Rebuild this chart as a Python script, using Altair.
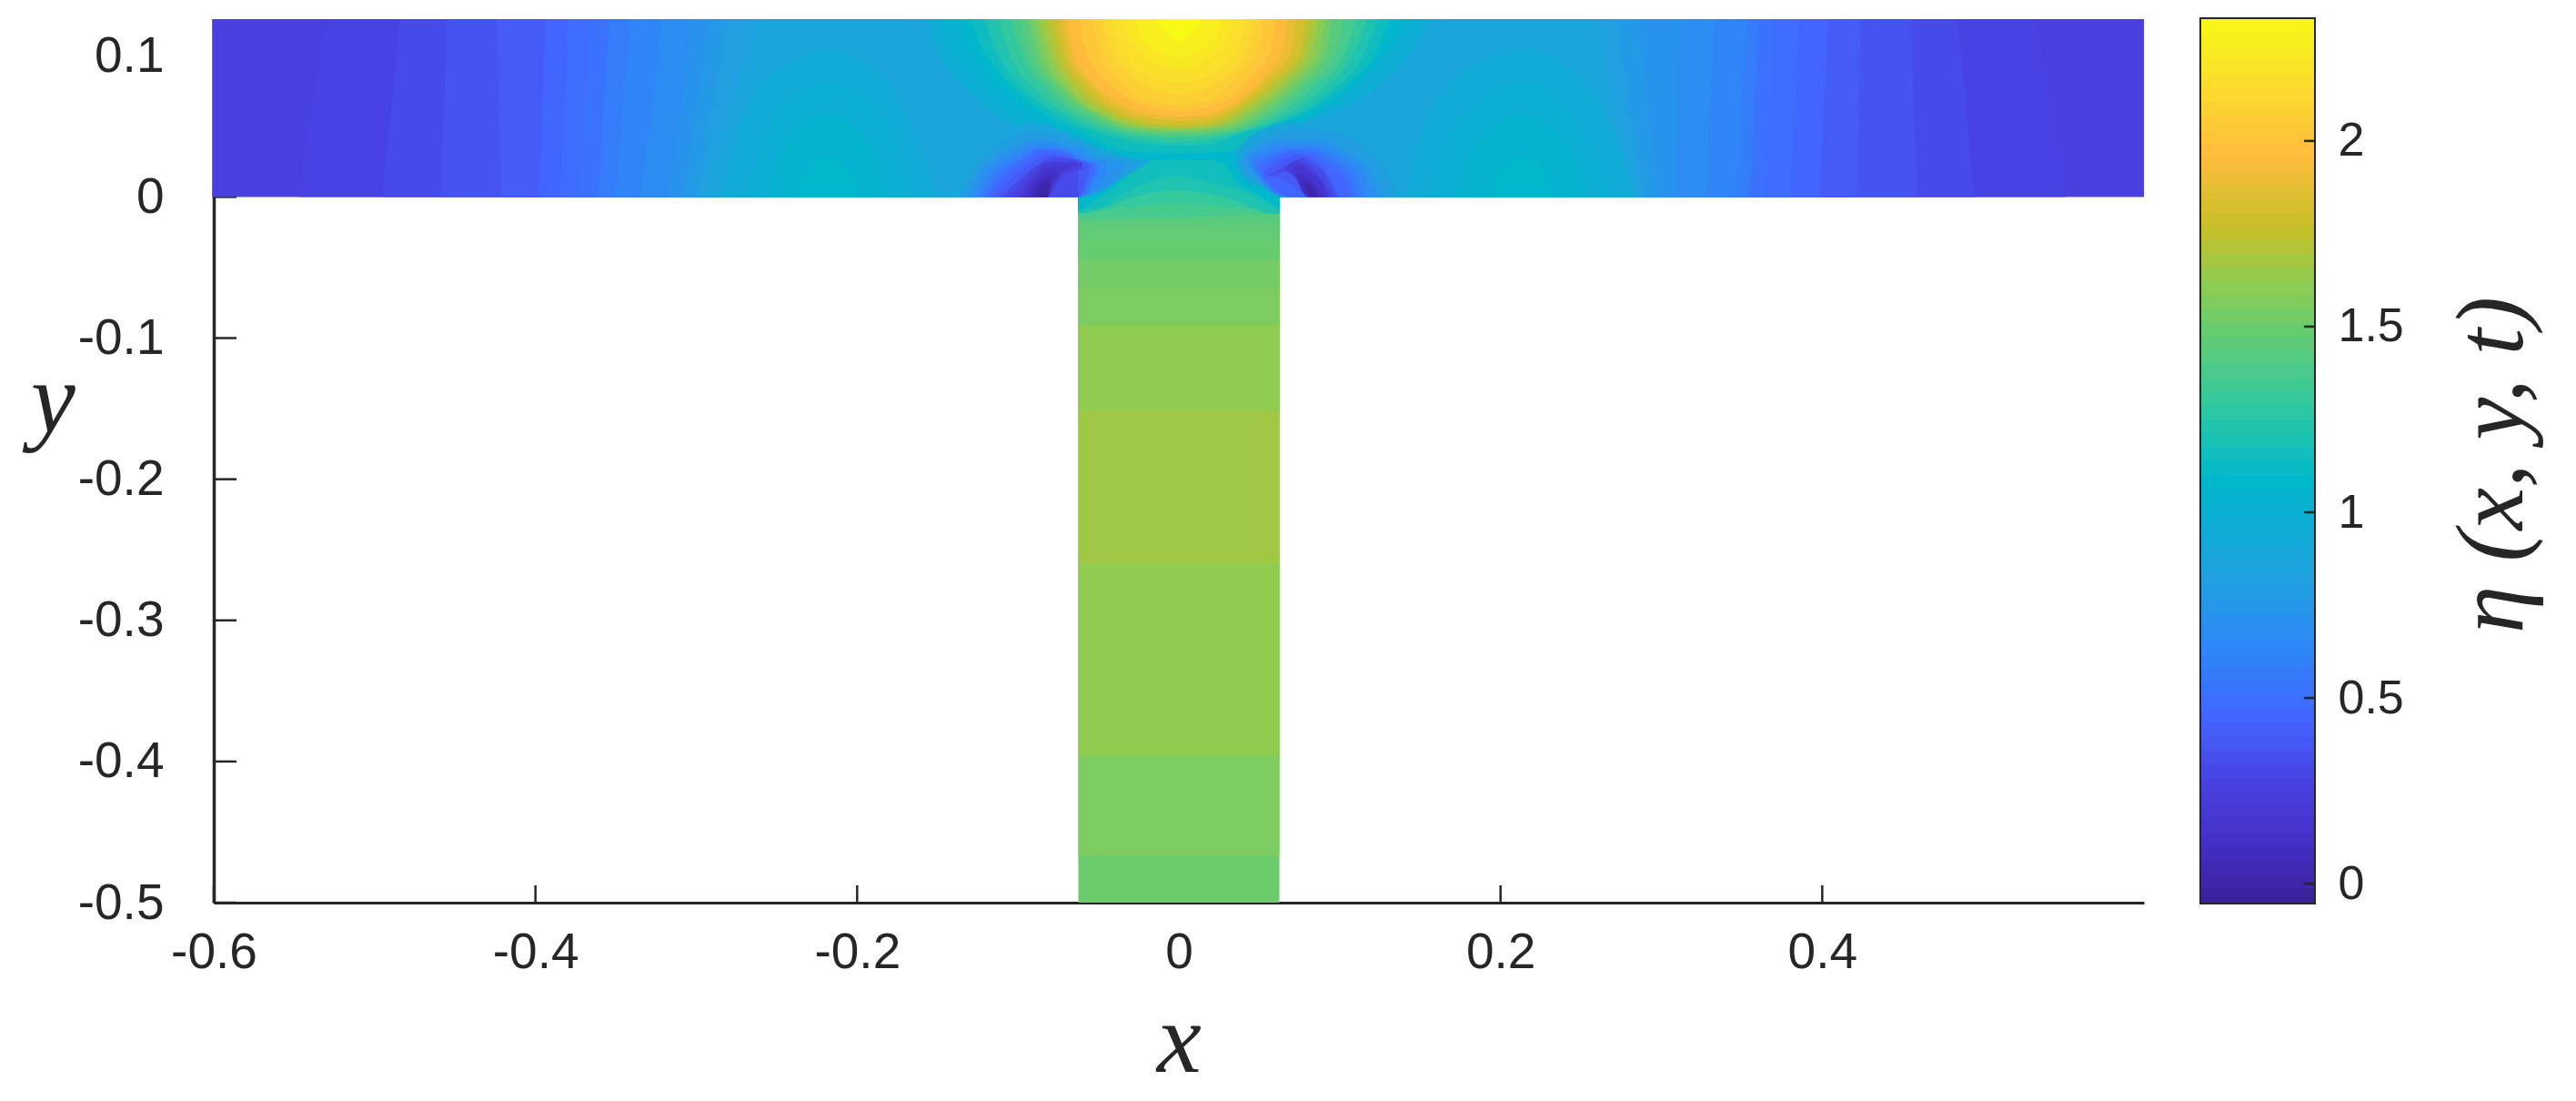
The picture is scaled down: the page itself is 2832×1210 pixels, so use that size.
import altair as alt
import pandas as pd

INK = "#262626"
SANS = "Liberation Sans"
SERIF = "Liberation Serif"
TOP = 0.126
X_TICKS = [-0.6, -0.4, -0.2, 0, 0.2, 0.4]
Y_TICKS = [-0.5, -0.4, -0.3, -0.2, -0.1, 0, 0.1]
CB_TICKS = [0, 0.5, 1, 1.5, 2]
CB_LOW, CB_HIGH = -0.051, 2.328
COLOR_V = [-0.055, 0.1, 0.25, 0.43, 0.6, 0.8, 1.07, 1.25, 1.47, 1.6, 1.75, 1.94, 2.1, 2.33]
COLOR_HEX = ["#3a229e", "#4430c8", "#4840e0", "#4265ff", "#2f85f8", "#20a0e0", "#00b7cb",
             "#2cc8a5", "#66cc70", "#90cc50", "#c8c028", "#ffbb3c", "#fbd830", "#f8fb14"]

# Iso-value regions, painted in order.
OUTER_Y = [0, 0.06, TOP]
OUTER = [
    (0.24, [-0.601, -0.601, -0.601], [0.6, 0.6, 0.6]),
    (0.26, [-0.547, -0.54, -0.53], [0.551, 0.543, 0.532]),
    (0.3, [-0.495, -0.49, -0.484], [0.494, 0.49, 0.484]),
    (0.34, [-0.459, -0.457, -0.455], [0.459, 0.457, 0.455]),
    (0.38, [-0.421, -0.423, -0.424], [0.421, 0.423, 0.424]),
    (0.43, [-0.398, -0.396, -0.394], [0.398, 0.401, 0.404]),
    (0.47, [-0.385, -0.382, -0.38], [0.38, 0.383, 0.386]),
    (0.5, [-0.373, -0.37, -0.367], [0.364, 0.367, 0.37]),
    (0.55, [-0.361, -0.358, -0.354], [0.355, 0.358, 0.361]),
    (0.6, [-0.351, -0.346, -0.341], [0.347, 0.35, 0.353]),
    (0.65, [-0.335, -0.328, -0.322], [0.328, 0.33, 0.333]),
    (0.7, [-0.318, -0.31, -0.303], [0.308, 0.31, 0.313]),
    (0.75, [-0.308, -0.3, -0.292], [0.298, 0.292, 0.286]),
    (0.8, [-0.3, -0.29, -0.28], [0.29, 0.28, 0.272]),
    (0.85, [-0.296, -0.28, -0.262], [0.285, 0.272, 0.26]),
]
BUMPS = [
    (0.92, [-0.285, -0.27, -0.25, -0.218, -0.18, -0.15], None, [0, 0.06, 0.09, 0.105, 0.08, 0]),
    (0.97, [-0.269, -0.255, -0.24, -0.218, -0.185, -0.165], None, [0, 0.05, 0.072, 0.082, 0.06, 0]),
    (1.02, [-0.255, -0.245, -0.235, -0.218, -0.195, -0.18], None, [0, 0.035, 0.053, 0.059, 0.042, 0]),
    (1.07, [-0.238, -0.23, -0.218, -0.205, -0.197], None, [0, 0.02, 0.029, 0.02, 0]),
    (0.92, [0.14, 0.16, 0.214, 0.26, 0.285], None, [0, 0.07, 0.105, 0.07, 0]),
    (0.97, [0.155, 0.172, 0.214, 0.25, 0.27], None, [0, 0.05, 0.082, 0.05, 0]),
    (1.02, [0.172, 0.185, 0.214, 0.24, 0.255], None, [0, 0.04, 0.059, 0.04, 0]),
    (1.07, [0.192, 0.2, 0.214, 0.228, 0.235], None, [0, 0.02, 0.029, 0.02, 0]),
]
DOMES = [
    (0.95, [-0.156, -0.151, -0.137, -0.117, -0.092, -0.064, -0.038, 0, 0.03, 0.035, 0.05, 0.075, 0.105, 0.13, 0.146, 0.156],
     [0.126, 0.106, 0.082, 0.061, 0.044, 0.0335, 0.029, 0.025, 0.024, 0.035, 0.044, 0.052, 0.0645, 0.0845, 0.106, 0.126]),
    (1.01, [-0.147, -0.143, -0.129, -0.108, -0.084, -0.056, -0.03, 0, 0.03, 0.037, 0.06, 0.087, 0.113, 0.133, 0.147],
     [0.126, 0.111, 0.087, 0.063, 0.046, 0.034, 0.028, 0.0255, 0.025, 0.038, 0.047, 0.06, 0.08, 0.105, 0.126]),
    (1.07, [-0.137, -0.134, -0.121, -0.098, -0.075, -0.047, -0.02, 0, 0.03, 0.04, 0.068, 0.098, 0.121, 0.135, 0.137],
     [0.126, 0.1165, 0.091, 0.065, 0.048, 0.035, 0.027, 0.026, 0.026, 0.041, 0.05, 0.069, 0.095, 0.1165, 0.126]),
    (1.13, [-0.129, -0.123, -0.107, -0.083, -0.058, -0.03, 0, 0.03, 0.054, 0.083, 0.107, 0.125, 0.131],
     [0.126, 0.108, 0.082, 0.059, 0.045, 0.032, 0.031, 0.032, 0.048, 0.062, 0.082, 0.108, 0.126]),
    (1.2, [-0.121, -0.112, -0.0935, -0.068, -0.043, -0.017, 0, 0.017, 0.04, 0.068, 0.0935, 0.114, 0.124],
     [0.126, 0.0995, 0.0735, 0.054, 0.0435, 0.037, 0.036, 0.037, 0.0455, 0.056, 0.0735, 0.0995, 0.126]),
    (1.27, [-0.113, -0.105, -0.088, -0.063, -0.038, 0, 0.037, 0.065, 0.089, 0.108, 0.117],
     [0.126, 0.1005, 0.0746, 0.055, 0.0445, 0.039, 0.0456, 0.057, 0.0757, 0.1005, 0.126]),
    (1.35, [-0.105, -0.098, -0.082, -0.059, -0.0335, 0, 0.0335, 0.061, 0.084, 0.103, 0.11],
     [0.126, 0.1015, 0.0757, 0.056, 0.0456, 0.042, 0.0456, 0.0585, 0.078, 0.1015, 0.126]),
    (1.42, [-0.099, -0.093, -0.077, -0.055, -0.031, 0, 0.031, 0.057, 0.079, 0.097, 0.102],
     [0.126, 0.1015, 0.0757, 0.057, 0.0466, 0.0437, 0.0466, 0.0595, 0.079, 0.1015, 0.126]),
    (1.5, [-0.0935, -0.088, -0.073, -0.052, -0.029, 0, 0.029, 0.054, 0.075, 0.091, 0.095],
     [0.126, 0.1015, 0.0757, 0.0585, 0.0477, 0.0455, 0.0477, 0.0606, 0.08, 0.1015, 0.126]),
    (1.57, [-0.09, -0.084, -0.069, -0.048, -0.026, 0, 0.026, 0.05, 0.071, 0.087, 0.091],
     [0.126, 0.1015, 0.0746, 0.058, 0.049, 0.047, 0.049, 0.062, 0.081, 0.1015, 0.126]),
    (1.65, [-0.087, -0.08, -0.065, -0.045, -0.024, 0, 0.024, 0.047, 0.068, 0.082, 0.087],
     [0.126, 0.1015, 0.0735, 0.0574, 0.05, 0.048, 0.05, 0.063, 0.082, 0.1015, 0.126]),
    (1.72, [-0.082, -0.076, -0.062, -0.042, -0.022, 0, 0.022, 0.043, 0.064, 0.078, 0.083],
     [0.126, 0.1015, 0.076, 0.059, 0.0515, 0.0495, 0.0515, 0.064, 0.083, 0.1015, 0.126]),
    (1.8, [-0.077, -0.072, -0.059, -0.04, -0.02, 0, 0.02, 0.04, 0.061, 0.075, 0.079],
     [0.126, 0.1015, 0.078, 0.0606, 0.053, 0.051, 0.053, 0.065, 0.084, 0.1015, 0.126]),
    (1.87, [-0.073, -0.069, -0.056, -0.038, -0.018, 0, 0.018, 0.038, 0.057, 0.07, 0.073],
     [0.126, 0.1015, 0.08, 0.063, 0.056, 0.054, 0.056, 0.0665, 0.085, 0.103, 0.126]),
    (1.94, [-0.069, -0.066, -0.054, -0.036, -0.017, 0, 0.017, 0.036, 0.054, 0.065, 0.067],
     [0.126, 0.1015, 0.082, 0.066, 0.0585, 0.057, 0.0585, 0.068, 0.0865, 0.106, 0.126]),
    (2.0, [-0.062, -0.058, -0.046, -0.028, 0, 0.028, 0.045, 0.058, 0.06],
     [0.126, 0.104, 0.083, 0.0675, 0.061, 0.0675, 0.085, 0.106, 0.126]),
    (2.05, [-0.054, -0.05, -0.038, -0.02, 0, 0.02, 0.036, 0.05, 0.052],
     [0.126, 0.106, 0.084, 0.069, 0.065, 0.069, 0.084, 0.106, 0.126]),
    (2.1, [-0.048, -0.044, -0.032, 0, 0.032, 0.044, 0.047],
     [0.126, 0.108, 0.0875, 0.073, 0.0875, 0.108, 0.126]),
    (2.15, [-0.042, -0.038, -0.027, 0, 0.027, 0.038, 0.042],
     [0.126, 0.11, 0.091, 0.081, 0.091, 0.11, 0.126]),
    (2.2, [-0.034, -0.03, 0, 0.03, 0.034], [0.126, 0.111, 0.09, 0.111, 0.126]),
    (2.25, [-0.027, -0.022, 0, 0.022, 0.027], [0.126, 0.112, 0.099, 0.112, 0.126]),
    (2.32, [-0.015, 0, 0.015], [0.126, 0.11, 0.126]),
]
CAPS = [
    (1.42, [-0.0625, 0, 0.0625], [-0.02, -0.02, -0.019], [0.026, 0.026, 0.026]),
    (1.35, [-0.0625, 0, 0.0625], [-0.0155, -0.0145, -0.012], [0.026, 0.026, 0.026]),
    (1.28, [-0.0625, -0.03, 0, 0.03, 0.0625], [-0.012, -0.007, -0.005, -0.007, -0.011], [0.026] * 5),
    (1.2, [-0.0625, -0.052, -0.029, 0, 0.029, 0.06, 0.0625], [-0.012, -0.01, 0, 0.0047, 0, -0.012, -0.012], [0.026] * 7),
    (1.14, [-0.0625, -0.052, -0.027, 0, 0.017, 0.038, 0.0625], [-0.009, -0.008, 0.007, 0.0155, 0.011, 0.0047, -0.01], [0.026] * 7),
    (1.07, [-0.0625, -0.052, -0.038, -0.024, -0.017], [-0.0105, -0.002, 0.009, 0.022, 0.027], [0.03] * 5),
    (1.07, [0.017, 0.029, 0.038, 0.052, 0.0625], [0.027, 0.022, 0.009, 0, -0.008], [0.03] * 5),
]
SINKS = [
    (0.85, [-0.14, -0.131, -0.112, -0.089, -0.0625, -0.052, -0.0386, -0.0185], [0, 0, 0, 0, 0, 0.0043, 0.011, 0.025], [0, 0.022, 0.0434, 0.052, 0.042, 0.036, 0.03, 0.0258]),
    (0.78, [-0.136, -0.127, -0.11, -0.089, -0.065, -0.0625, -0.052, -0.04, -0.026], [0, 0, 0, 0, 0, 0, 0.0035, 0.011, 0.023], [0, 0.02, 0.038, 0.0465, 0.04, 0.039, 0.032, 0.028, 0.025]),
    (0.7, [-0.133, -0.124, -0.107, -0.089, -0.068, -0.0625, -0.052, -0.04, -0.0335], [0, 0, 0, 0, 0, 0, 0.0026, 0.011, 0.022], [0, 0.0176, 0.0327, 0.041, 0.037, 0.036, 0.028, 0.026, 0.024]),
    (0.62, [-0.128, -0.119, -0.103, -0.088, -0.069, -0.0625, -0.055, -0.045], [0, 0, 0, 0, 0, 0, 0.003, 0.014], [0, 0.0176, 0.03, 0.038, 0.035, 0.032, 0.027, 0.025]),
    (0.55, [-0.124, -0.114, -0.1, -0.087, -0.07, -0.0625, -0.059, -0.05], [0, 0, 0, 0, 0, 0, 0.0037, 0.0165], [0, 0.0176, 0.028, 0.035, 0.033, 0.028, 0.026, 0.024]),
    (0.49, [-0.121, -0.112, -0.099, -0.085, -0.07, -0.0625, -0.056, -0.052], [0, 0, 0, 0, 0, 0, 0.006, 0.018], [0, 0.015, 0.026, 0.034, 0.0315, 0.027, 0.0245, 0.0235]),
    (0.43, [-0.119, -0.11, -0.098, -0.084, -0.07, -0.0625, -0.054], [0, 0, 0, 0, 0, 0, 0.02], [0, 0.013, 0.024, 0.0327, 0.03, 0.026, 0.023]),
    (0.37, [-0.114, -0.105, -0.093, -0.08, -0.0625, -0.056], [0, 0, 0, 0, 0, 0.018], [0, 0.012, 0.023, 0.03, 0.026, 0.0235]),
    (0.3, [-0.11, -0.1, -0.089, -0.077, -0.0625], [0, 0, 0, 0, 0], [0, 0.011, 0.022, 0.028, 0.026]),
    (0.25, [-0.105, -0.097, -0.088, -0.082, -0.074, -0.06], [0, 0, 0, 0, 0.012, 0.02], [0, 0.011, 0.021, 0.025, 0.0255, 0.024]),
    (0.2, [-0.1, -0.094, -0.087, -0.082, -0.074, -0.06], [0, 0, 0, 0, 0.0165, 0.023], [0, 0.011, 0.02, 0.024, 0.0245, 0.0235]),
    (0.15, [-0.098, -0.0915, -0.085, -0.082, -0.075, -0.066], [0, 0, 0, 0, 0.015, 0.021], [0, 0.011, 0.0185, 0.0205, 0.0215, 0.0215]),
    (0.1, [-0.096, -0.089, -0.082, -0.079, -0.075], [0, 0, 0, 0.009, 0.0165], [0, 0.011, 0.0165, 0.018, 0.018]),
    (0.05, [-0.093, -0.087, -0.082, -0.079], [0, 0, 0, 0.01], [0, 0.01, 0.0145, 0.0155]),
    (0.0, [-0.09, -0.0855, -0.082, -0.08], [0, 0, 0, 0.011], [0, 0.009, 0.012, 0.013]),
    (-0.05, [-0.087, -0.082, -0.081], [0, 0, 0], [0, 0.005, 0]),
    (0.85, [0.036, 0.04, 0.052, 0.064, 0.087, 0.11, 0.13, 0.14], [0.022, 0.0133, 0.0069, 0, 0, 0, 0, 0], [0.026, 0.038, 0.0477, 0.052, 0.054, 0.0434, 0.022, 0]),
    (0.78, [0.038, 0.046, 0.058, 0.075, 0.095, 0.115, 0.127, 0.135], [0.023, 0.012, 0.007, 0, 0, 0, 0, 0], [0.028, 0.037, 0.044, 0.048, 0.047, 0.034, 0.02, 0]),
    (0.7, [0.042, 0.052, 0.064, 0.084, 0.103, 0.119, 0.126], [0.024, 0.009, 0, 0, 0, 0, 0], [0.0305, 0.037, 0.041, 0.041, 0.0327, 0.0176, 0]),
    (0.62, [0.044, 0.053, 0.066, 0.083, 0.1, 0.115, 0.12], [0.023, 0.009, 0, 0, 0, 0, 0], [0.028, 0.034, 0.038, 0.038, 0.03, 0.017, 0]),
    (0.55, [0.046, 0.054, 0.068, 0.082, 0.096, 0.11, 0.115], [0.022, 0.009, 0, 0, 0, 0, 0], [0.026, 0.0305, 0.035, 0.035, 0.028, 0.0155, 0]),
    (0.49, [0.049, 0.058, 0.069, 0.082, 0.094, 0.106, 0.111], [0.019, 0.007, 0, 0, 0, 0, 0], [0.024, 0.029, 0.033, 0.033, 0.026, 0.0145, 0]),
    (0.43, [0.052, 0.061, 0.07, 0.081, 0.091, 0.102, 0.107], [0.0155, 0.004, 0, 0, 0, 0, 0], [0.022, 0.028, 0.0316, 0.0305, 0.024, 0.0133, 0]),
    (0.37, [0.054, 0.066, 0.075, 0.081, 0.09, 0.1], [0.015, 0.012, 0.004, 0, 0, 0], [0.019, 0.027, 0.03, 0.028, 0.02, 0]),
    (0.3, [0.0566, 0.07, 0.078, 0.081, 0.09, 0.098], [0.0144, 0.0187, 0.0075, 0, 0, 0], [0.0155, 0.0245, 0.0276, 0.025, 0.0176, 0]),
    (0.22, [0.066, 0.073, 0.08, 0.088, 0.095], [0.0187, 0.013, 0, 0, 0], [0.02, 0.0255, 0.022, 0.013, 0]),
    (0.15, [0.07, 0.075, 0.081, 0.089, 0.092], [0.0187, 0.009, 0, 0, 0], [0.0187, 0.023, 0.0176, 0.009, 0]),
    (0.08, [0.074, 0.08, 0.085, 0.09], [0.0115, 0, 0, 0], [0.016, 0.014, 0.008, 0]),
    (0.0, [0.077, 0.082, 0.087], [0.011, 0, 0], [0.011, 0.009, 0]),
]
CHANNEL_X = [-0.0625, 0.0625]
CHANNEL_BOTTOM = [-0.5, -0.4668, -0.396, -0.26, -0.151, -0.091, -0.064, -0.0445, -0.03]
CHANNEL_V = [1.49, 1.54, 1.6, 1.645, 1.6, 1.54, 1.51, 1.47, 1.45]

outer_rows = []
for i, (v, xl, xr) in enumerate(OUTER):
    for y, a, b in zip(OUTER_Y, xl, xr):
        outer_rows.append({"g": i, "v": v, "y": y, "xl": a, "xr": b})

area_rows = []
g = 0
for v, xs_, _, hi in BUMPS:
    for x, h in zip(xs_, hi):
        area_rows.append({"g": g, "v": v, "x": x, "lo": 0, "hi": h})
    g += 1
for v, xs_, lo in DOMES:
    for x, l in zip(xs_, lo):
        area_rows.append({"g": g, "v": v, "x": x, "lo": l, "hi": TOP})
    g += 1
for v, xs_, lo, hi in CAPS + SINKS:
    for x, l, h in zip(xs_, lo, hi):
        area_rows.append({"g": g, "v": v, "x": x, "lo": l, "hi": h})
    g += 1

channel = pd.DataFrame({"y": CHANNEL_BOTTOM, "y2": 0.0, "v": CHANNEL_V,
                        "x": CHANNEL_X[0], "x2": CHANNEL_X[1]})

color = alt.Color("v:Q", scale=alt.Scale(domain=COLOR_V, range=COLOR_HEX, clamp=True, interpolate="rgb"), legend=None)
xs = alt.Scale(domain=[-0.6, 0.6], nice=False, zero=False)
ys = alt.Scale(domain=[-0.5, TOP], nice=False, zero=False)
label_expr = "toString(datum.value)"

x_axis = alt.Axis(values=X_TICKS, labelExpr=label_expr, grid=False, ticks=False, domainColor=INK, domainWidth=3,
                  labelFont=SANS, labelFontSize=55, labelColor=INK, labelPadding=28, labelFlush=False,
                  title="x", titleFont=SERIF, titleFontStyle="italic", titleFontWeight="normal", titleFontSize=110,
                  titleColor=INK, titleX=1061, titleY=185, titleAlign="center", titleBaseline="alphabetic")
y_axis = alt.Axis(values=Y_TICKS, labelExpr=label_expr, grid=False, ticks=False, domainColor=INK, domainWidth=3.5,
                  labelFont=SANS, labelFontSize=55, labelColor=INK, labelPadding=55, labelOverlap=False, labelFlush=False,
                  title="y", titleFont=SERIF, titleFontStyle="italic", titleFontWeight="normal", titleFontSize=110,
                  titleColor=INK, titleAngle=0, titleX=-177, titleY=453, titleAlign="center", titleBaseline="alphabetic")

x_ticks = alt.Chart(pd.DataFrame({"x": X_TICKS})).mark_rule(color=INK, strokeWidth=2.5).encode(
    x=alt.X("x:Q", scale=xs, axis=x_axis), y=alt.value(971), y2=alt.value(952))
y_ticks = alt.Chart(pd.DataFrame({"y": Y_TICKS})).mark_rule(color=INK, strokeWidth=2.5).encode(
    y=alt.Y("y:Q", scale=ys, axis=y_axis), x=alt.value(0), x2=alt.value(25))

outer = alt.Chart(pd.DataFrame(outer_rows)).mark_area(orient="horizontal", interpolate="monotone").encode(
    y=alt.Y("y:Q", scale=ys, stack=None, axis=y_axis), x=alt.X("xl:Q", scale=xs, stack=None, axis=x_axis), x2="xr:Q",
    color=color, detail="g:N")
bands = alt.Chart(channel).mark_rect().encode(
    x=alt.X("x:Q", scale=xs, axis=x_axis), x2="x2:Q", y=alt.Y("y:Q", scale=ys, axis=y_axis), y2="y2:Q", color=color)
areas = alt.Chart(pd.DataFrame(area_rows)).mark_area(interpolate="monotone").encode(
    x=alt.X("x:Q", scale=xs, stack=None, axis=x_axis), y=alt.Y("lo:Q", scale=ys, stack=None, axis=y_axis), y2="hi:Q",
    color=color, detail="g:N")

main = alt.layer(x_ticks, y_ticks, outer, bands, areas).properties(width=2122, height=971)

cb_edges = [CB_LOW + (CB_HIGH - CB_LOW) * k / 64 for k in range(64)]
cb_scale = alt.Scale(domain=[CB_LOW, CB_HIGH], nice=False, zero=False)
cb_axis = alt.Axis(orient="right", values=CB_TICKS, labelExpr=label_expr, title=None,
                   grid=False, ticks=False, domain=False, labelFont=SANS, labelFontSize=52, labelColor=INK,
                   labelPadding=26, labelFlush=False, labelOverlap=False)
ramp = alt.Chart(pd.DataFrame({"v": cb_edges, "top": CB_HIGH})).mark_rect().encode(
    y=alt.Y("v:Q", scale=cb_scale, axis=cb_axis),
    y2="top:Q", x=alt.value(0), x2=alt.value(124), color=color)
cb_ticks = alt.Chart(pd.DataFrame({"v": CB_TICKS})).mark_rule(color=INK, strokeWidth=2.5).encode(
    y=alt.Y("v:Q", scale=cb_scale, axis=cb_axis), x=alt.value(124), x2=alt.value(113))
cb_title = alt.Chart(pd.DataFrame({"t": ["η (x, y, t)"]})).mark_text(
    font=SERIF, fontStyle="italic", fontSize=105, color=INK, angle=270, align="center", baseline="middle").encode(
    text="t:N", x=alt.value(321), y=alt.value(490))
bar = alt.layer(ramp, cb_ticks, cb_title).properties(
    width=124, height=971, view=alt.ViewConfig(stroke=INK, strokeWidth=4))

chart = alt.hconcat(main, bar, spacing=63, bounds="flush").properties(
    padding={"left": 25, "top": 11, "right": 10, "bottom": 10}, background="white"
).configure_view(stroke=None)

chart.save("out.html", embed_options={"renderer": "svg", "actions": False})
